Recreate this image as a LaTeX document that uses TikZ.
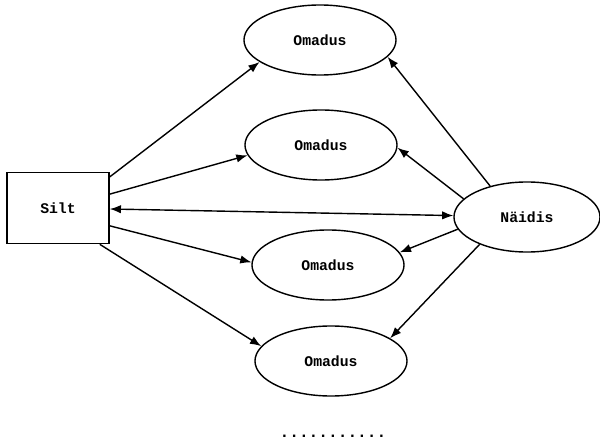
\documentclass[tikz,border=0pt]{standalone}
\usepackage{fontspec}
\setmonofont{Liberation Mono}
\usetikzlibrary{shapes.geometric,arrows.meta}

\begin{document}
\begin{tikzpicture}[x=0.025cm,y=-0.025cm,-{Latex[length=8pt,width=6pt]},shorten >=0pt,
  line width=1pt,
  prop node/.style={ellipse,draw,minimum width=3.8cm,minimum height=1.75cm,font=\ttfamily\bfseries\fontsize{10.5}{12}\selectfont},
  label node/.style={rectangle,draw,minimum width=2.55cm,minimum height=1.78cm,font=\ttfamily\bfseries\fontsize{10.5}{12}\selectfont}]

  \useasboundingbox (0,0) rectangle (600,440);

  \node[label node] (silt) at (58,208) {Silt};
  \node[prop node,minimum width=3.65cm] (naidis) at (527,217) {Näidis};
  \node[prop node] (om1) at (320,40) {Omadus};
  \node[prop node] (om2) at (321,145) {Omadus};
  \node[prop node] (om3) at (328,265) {Omadus};
  \node[prop node] (om4) at (331,361) {Omadus};
  \node[font=\ttfamily\bfseries\fontsize{11.5}{12}\selectfont,anchor=base] (dots) at (333,437) {...........};

  \path
    (silt.31) edge (om1.200)
    (silt.15) edge (om2.188)
    (silt.-19) edge (om3.178)
    (silt.-41) edge (om4.168)
    (silt) edge[{Latex[length=8pt,width=6pt]}-{Latex[length=8pt,width=6pt]}] (naidis)
    (naidis.140) edge (om1.-14)
    (naidis.164) edge (om2.-2)
    (naidis.190) edge (om3.10)
    (naidis.210) edge (om4.21);
\end{tikzpicture}
\end{document}
